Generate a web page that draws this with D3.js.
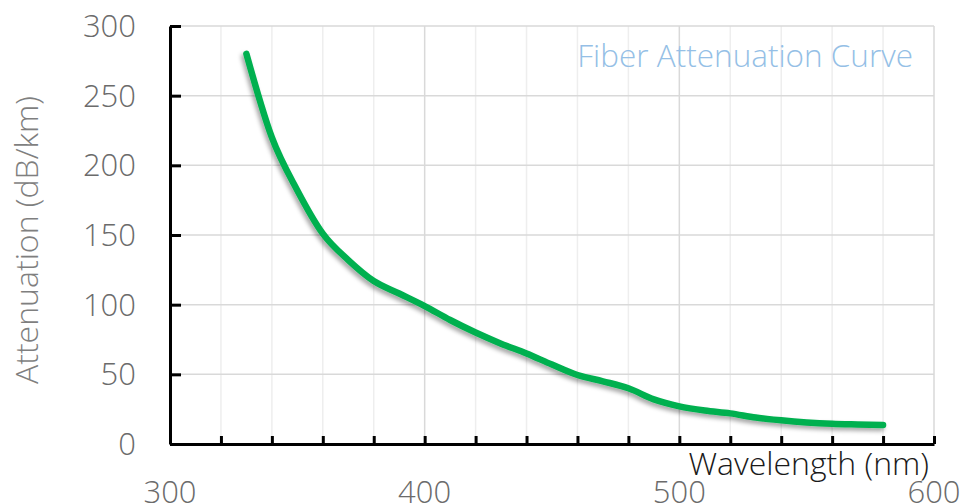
<!DOCTYPE html>
<html>
<head>
<meta charset="utf-8">
<script src="https://cdnjs.cloudflare.com/ajax/libs/d3/7.8.5/d3.min.js"></script>
<style>
  body { margin: 0; background: #fff; }
  text { font-family: "Open Sans", sans-serif; }
</style>
</head>
<body>
<div id="chart"></div>
<script>
// wavelength (nm) and attenuation (dB/km)
var wavelength = [330, 340, 350, 360, 370, 380, 390, 400, 410, 420, 430, 440, 450,
                  460, 470, 480, 490, 500, 510, 520, 530, 540, 550, 560, 570, 580];
var attenuation = [280, 220, 182, 151, 132, 117, 108, 99, 89, 80, 72, 65, 57,
                   49.5, 45, 40, 32, 27, 24, 22, 19, 17, 15.5, 14.5, 14, 13.6];
var xTicks = [300, 400, 500, 600];
var yTicks = [0, 50, 100, 150, 200, 250, 300];

var svgWidth = 961;
var svgHeight = 503;
var margin = { top: 26, right: 27, bottom: 59, left: 170 };
var width = svgWidth - margin.left - margin.right;
var height = svgHeight - margin.top - margin.bottom;

var svg = d3.select("#chart")
    .append("svg")
    .attr("width", svgWidth)
    .attr("height", svgHeight);

// shadow under the line
var filter = svg.append("defs").append("filter")
    .attr("id", "shadow")
    .attr("x", "-20%").attr("y", "-20%")
    .attr("width", "140%").attr("height", "140%");
filter.append("feDropShadow")
    .attr("dx", -2).attr("dy", 3)
    .attr("stdDeviation", 2)
    .attr("flood-color", "#000")
    .attr("flood-opacity", 0.35);

var chartGroup = svg.append("g")
    .attr("transform", `translate(${margin.left}, ${margin.top})`);

var xScale = d3.scaleLinear().domain([300, 600]).range([0, width]);
var yScale = d3.scaleLinear().domain([0, 300]).range([height, 0]);

var data = wavelength.map((w, i) => ({ w: w, a: attenuation[i] }));

// vertical gridlines every 20 nm, darker at the labelled ones
var minorX = d3.range(320, 601, 20);
chartGroup.selectAll(".vgrid")
    .data(minorX)
    .enter()
    .append("line")
    .attr("x1", d => xScale(d))
    .attr("x2", d => xScale(d))
    .attr("y1", 0)
    .attr("y2", height)
    .attr("stroke", d => xTicks.includes(d) ? "#d9d9d9" : "#eeeeee")
    .attr("stroke-width", 1.5);

// horizontal gridlines
chartGroup.selectAll(".hgrid")
    .data(yTicks.filter(d => d > 0))
    .enter()
    .append("line")
    .attr("x1", 0)
    .attr("x2", width)
    .attr("y1", d => yScale(d))
    .attr("y2", d => yScale(d))
    .attr("stroke", "#d9d9d9")
    .attr("stroke-width", 1.5);

// axes, ticks pointing inward
var bottomAxis = d3.axisBottom(xScale)
    .tickValues(d3.range(300, 601, 20))
    .tickSizeInner(-8)
    .tickSizeOuter(0)
    .tickFormat("");
var leftAxis = d3.axisLeft(yScale)
    .tickValues(yTicks)
    .tickSizeInner(-11)
    .tickSizeOuter(0)
    .tickFormat("");

var gx = chartGroup.append("g")
    .attr("transform", `translate(0, ${height})`)
    .call(bottomAxis);
var gy = chartGroup.append("g")
    .call(leftAxis);
[gx, gy].forEach(g => {
    g.selectAll("path").attr("stroke", "#000").attr("stroke-width", 3);
    g.selectAll("line").attr("stroke", "#000").attr("stroke-width", 3);
});

// tick labels
chartGroup.selectAll(".ylab")
    .data(yTicks)
    .enter()
    .append("text")
    .attr("x", -34)
    .attr("y", d => yScale(d) + 11)
    .attr("text-anchor", "end")
    .attr("font-size", 31)
    .attr("font-weight", 300)
    .attr("fill", "#6b6b6b")
    .text(d => d);

chartGroup.selectAll(".xlab")
    .data(xTicks)
    .enter()
    .append("text")
    .attr("x", d => xScale(d))
    .attr("y", height + 59)
    .attr("text-anchor", "middle")
    .attr("font-size", 31)
    .attr("font-weight", 300)
    .attr("fill", "#6b6b6b")
    .text(d => d);

// the curve
var line = d3.line()
    .x(d => xScale(d.w))
    .y(d => yScale(d.a))
    .curve(d3.curveMonotoneX);

chartGroup.append("path")
    .datum(data)
    .attr("d", line)
    .attr("fill", "none")
    .attr("stroke", "#00b050")
    .attr("stroke-width", 6.5)
    .attr("stroke-linecap", "round")
    .attr("filter", "url(#shadow)");

// titles
svg.append("text")
    .attr("x", 913)
    .attr("y", 67)
    .attr("text-anchor", "end")
    .attr("font-size", 31.5)
    .attr("font-weight", 300)
    .attr("fill", "#95bfe6")
    .text("Fiber Attenuation Curve");

svg.append("text")
    .attr("x", 929)
    .attr("y", 475)
    .attr("text-anchor", "end")
    .attr("font-size", 32)
    .attr("font-weight", 300)
    .attr("fill", "#1a1a1a")
    .text("Wavelength (nm)");

svg.append("text")
    .attr("transform", "translate(38, 240) rotate(-90)")
    .attr("text-anchor", "middle")
    .attr("font-size", 32)
    .attr("font-weight", 300)
    .attr("fill", "#7f7f7f")
    .text("Attenuation (dB/km)");
</script>
</body>
</html>
